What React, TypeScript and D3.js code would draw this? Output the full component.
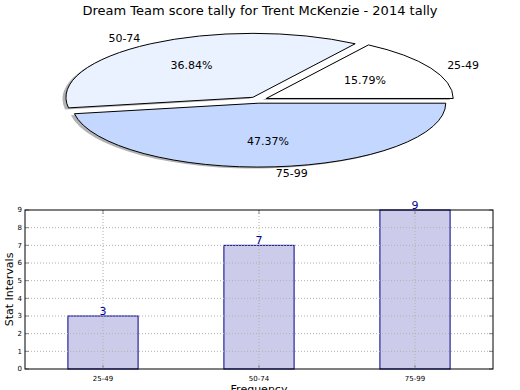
import React from "react";
import * as d3 from "d3";

const categories = ["25-49", "50-74", "75-99"];
const counts = [3, 7, 9];
const sliceColors = ["#ffffff", "#eaf1ff", "#c4d8ff"];
const yTicks = [0, 1, 2, 3, 4, 5, 6, 7, 8, 9];

const W = 520;
const H = 390;
const font = "DejaVu Sans, sans-serif";

// pie geometry (matplotlib pie in a stretched axes)
const cx = 258;
const cy = 100;
const rx = 187;
const ry = 64;
const explode = 0.05;

// bar axes
const plot = { left: 25, right: 493, top: 210, bottom: 369 };

const App = () => {
  const total = d3.sum(counts);
  // start at 3 o'clock, counter-clockwise
  let acc = 0;
  const slices = counts.map((v, i) => {
    const t1 = (acc / total) * 2 * Math.PI;
    acc += v;
    const t2 = (acc / total) * 2 * Math.PI;
    const mid = (t1 + t2) / 2;
    const dx = explode * Math.cos(mid) * rx;
    const dy = -explode * Math.sin(mid) * ry;
    return { i, v, t1, t2, mid, dx, dy };
  });

  const arc = d3.arc();
  const wedge = (s) =>
    arc({
      innerRadius: 0,
      outerRadius: 1,
      startAngle: Math.PI / 2 - s.t2,
      endAngle: Math.PI / 2 - s.t1,
    });

  const x = d3.scaleLinear().domain([-0.5, 2.5]).range([plot.left, plot.right]);
  const y = d3.scaleLinear().domain([0, 9]).range([plot.bottom, plot.top]);
  const barW = 0.45;

  return (
    <svg width={W} height={H} style={{ position: "absolute", left: 0, top: 0, background: "#fff" }}>
      <text x={260} y={15} textAnchor="middle" fontFamily={font} fontSize={13} fill="#000">
        Dream Team score tally for Trent McKenzie - 2014 tally
      </text>

      {/* shadows */}
      {slices.map((s) => (
        <g key={"sh" + s.i} transform={`translate(${cx + s.dx - 3.5},${cy + s.dy + 1.5}) scale(${rx},${ry})`}>
          <path d={wedge(s)} fill="#000" fillOpacity={0.3} />
        </g>
      ))}
      {/* wedges */}
      {slices.map((s) => (
        <g key={"w" + s.i} transform={`translate(${cx + s.dx},${cy + s.dy}) scale(${rx},${ry})`}>
          <path
            d={wedge(s)}
            fill={sliceColors[s.i]}
            stroke="#000"
            strokeWidth={1}
            vectorEffect="non-scaling-stroke"
            strokeLinejoin="round"
          />
        </g>
      ))}
      {/* labels */}
      {slices.map((s) => {
        const c = Math.cos(s.mid);
        const sn = Math.sin(s.mid);
        const lx = cx + s.dx + 1.1 * c * rx;
        const ly = cy + s.dy - 1.1 * sn * ry;
        const px = cx + s.dx + 0.6 * c * rx;
        const py = cy + s.dy - 0.6 * sn * ry;
        return (
          <g key={"l" + s.i} fontFamily={font} fontSize={11} fill="#000">
            <text x={lx} y={ly} dy="0.35em" textAnchor={c > 0 ? "start" : "end"}>
              {categories[s.i]}
            </text>
            <text x={px} y={py} dy="0.35em" textAnchor="middle">
              {((s.v / total) * 100).toFixed(2)}%
            </text>
          </g>
        );
      })}

      {/* bar chart */}
      <rect x={plot.left} y={plot.top} width={plot.right - plot.left} height={plot.bottom - plot.top} fill="#fff" />
      {counts.map((v, i) => (
        <rect
          key={"b" + i}
          x={x(i - barW / 2)}
          y={y(v)}
          width={x(barW) - x(0)}
          height={y(0) - y(v)}
          fill="#ccccea"
          stroke="#00008b"
          strokeWidth={1}
        />
      ))}
      {/* grid */}
      {yTicks.slice(1, -1).map((t) => (
        <line key={"gy" + t} x1={plot.left} x2={plot.right} y1={y(t)} y2={y(t)} stroke="#b0b0b0" strokeDasharray="1,2" />
      ))}
      {categories.map((c, i) => (
        <line key={"gx" + i} x1={x(i)} x2={x(i)} y1={plot.top} y2={plot.bottom} stroke="#b0b0b0" strokeDasharray="1,2" />
      ))}
      {/* ticks */}
      {yTicks.map((t) => (
        <g key={"ty" + t}>
          <line x1={plot.left} x2={plot.left + 4} y1={y(t)} y2={y(t)} stroke="#888" />
          <line x1={plot.right - 4} x2={plot.right} y1={y(t)} y2={y(t)} stroke="#888" />
          <text x={plot.left - 3} y={y(t)} dy="0.35em" textAnchor="end" fontFamily={font} fontSize={7} fill="#000">
            {t}
          </text>
        </g>
      ))}
      {categories.map((c, i) => (
        <g key={"tx" + i}>
          <line x1={x(i)} x2={x(i)} y1={plot.bottom} y2={plot.bottom - 4} stroke="#888" />
          <line x1={x(i)} x2={x(i)} y1={plot.top} y2={plot.top + 4} stroke="#888" />
          <text x={x(i)} y={plot.bottom + 12} textAnchor="middle" fontFamily={font} fontSize={7} fill="#000">
            {c}
          </text>
        </g>
      ))}
      <rect
        x={plot.left}
        y={plot.top}
        width={plot.right - plot.left}
        height={plot.bottom - plot.top}
        fill="none"
        stroke="#000"
        strokeWidth={1}
      />
      {/* value labels */}
      {counts.map((v, i) => (
        <text key={"v" + i} x={x(i)} y={y(v) - 1} textAnchor="middle" fontFamily={font} fontSize={11} fill="#0000a0">
          {v}
        </text>
      ))}
      <text
        transform={`translate(13,${(plot.top + plot.bottom) / 2}) rotate(-90)`}
        textAnchor="middle"
        fontFamily={font}
        fontSize={11}
        fill="#000"
      >
        Stat Intervals
      </text>
      <text x={(plot.left + plot.right) / 2} y={393} textAnchor="middle" fontFamily={font} fontSize={11} fill="#000">
        Frequency
      </text>
    </svg>
  );
};

export default App;
